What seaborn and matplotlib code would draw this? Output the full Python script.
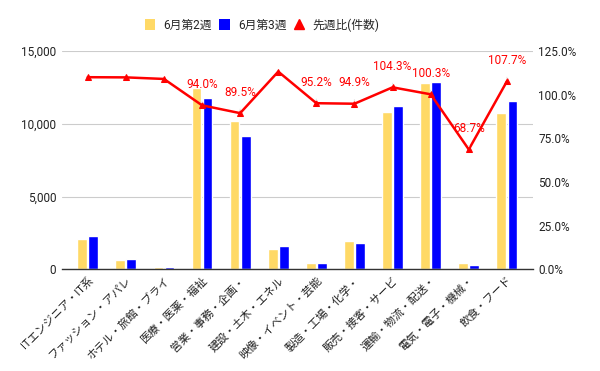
import numpy as np
import pandas as pd
import matplotlib
matplotlib.use("Agg")
import matplotlib.pyplot as plt
import seaborn as sns
from matplotlib.ticker import FuncFormatter
from matplotlib.lines import Line2D
from matplotlib.patches import Patch


# ==========================================
# DATA
# ==========================================

categories = [
    "ITエンジニア・IT系",
    "ファッション・アパレ",
    "ホテル・旅館・ブライ",
    "医療・医薬・福祉",
    "営業・事務・企画・",
    "建設・土木・エネル",
    "映像・イベント・芸能",
    "製造・工場・化学・",
    "販売・接客・サービ",
    "運輸・物流・配送・",
    "電気・電子・機械・",
    "飲食・フード",
]

week2 = [2085, 640, 165, 12500, 10200, 1400, 430, 1930, 10820, 12820, 435, 10750]
week3 = [2290, 710, 180, 11750, 9150, 1600, 410, 1830, 11230, 12860, 300, 11580]
ratio = [110.1, 110.0, 109.1, 94.0, 89.5, 113.3, 95.2, 94.9, 104.3, 100.3, 68.7, 107.7]

# labels the original chart actually shows
labeled = [3, 4, 6, 7, 8, 9, 10, 11]

series_names = ["6月第2週", "6月第3週", "先週比(件数)"]


# ==========================================
# STYLE
# ==========================================

sns.set_style("white")
plt.rcParams["font.family"] = ["Roboto", "Noto Sans CJK JP", "DejaVu Sans"]

yellow = "#FFD966"
blue = "#0000FF"
red = "#FF0000"
text_col = "#222222"

df = pd.DataFrame({
    "category": categories * 2,
    "value": week2 + week3,
    "week": [series_names[0]] * len(categories) + [series_names[1]] * len(categories),
})


# ==========================================
# PLOT
# ==========================================

fig = plt.figure(figsize=(6, 3.71), dpi=100)
ax = fig.add_axes([0.103, 0.274, 0.785, 0.588])

sns.barplot(
    data=df,
    x="category",
    y="value",
    hue="week",
    palette=[yellow, blue],
    saturation=1,
    width=0.58,
    gap=0.12,
    legend=False,
    ax=ax,
)

ax.set_xlim(-0.68, len(categories) - 0.32)
ax.set_ylim(0, 15000)
ax.set_yticks([0, 5000, 10000, 15000])
ax.yaxis.set_major_formatter(FuncFormatter(lambda v, p: f"{int(v):,}"))
ax.grid(axis="y", color="#cccccc", linewidth=0.8)
ax.set_axisbelow(True)
for s in ["top", "right", "left"]:
    ax.spines[s].set_visible(False)
ax.spines["bottom"].set_color("#333333")
ax.spines["bottom"].set_linewidth(1.0)
ax.set_xlabel("")
ax.set_ylabel("")
ax.tick_params(axis="both", length=0, labelsize=8.5, colors=text_col, pad=4)
ax.set_xticks(range(len(categories)))
ax.set_xticklabels(categories, rotation=45, ha="right", rotation_mode="anchor", fontsize=8)

# ratio line on the right axis
ax2 = ax.twinx()
x_pos = np.arange(len(categories))
sns.lineplot(
    x=x_pos,
    y=ratio,
    color=red,
    linewidth=1.8,
    marker="^",
    markersize=5,
    markeredgecolor=red,
    ax=ax2,
)
ax2.set_ylim(0, 125)
ax2.set_yticks([0, 25, 50, 75, 100, 125])
ax2.yaxis.set_major_formatter(FuncFormatter(lambda v, p: f"{v:.1f}%"))
ax2.tick_params(axis="y", length=0, labelsize=8.5, colors=text_col, pad=4)
for s in ax2.spines.values():
    s.set_visible(False)
ax2.set_xlim(ax.get_xlim())

for i in labeled:
    ax2.annotate(
        f"{ratio[i]:.1f}%",
        xy=(x_pos[i], ratio[i]),
        xytext=(0, 15),
        textcoords="offset points",
        ha="center",
        va="center",
        color=red,
        fontsize=8.5,
        arrowprops=dict(arrowstyle="-", color="#e6e6e6", linewidth=0.8, shrinkA=5, shrinkB=2),
    )

# legend at the top
handles = [
    Patch(facecolor=yellow, edgecolor="none"),
    Patch(facecolor=blue, edgecolor="none"),
    Line2D([], [], color=red, marker="^", linestyle="none", markersize=7),
]
fig.legend(
    handles,
    series_names,
    loc="center",
    bbox_to_anchor=(0.437, 0.933),
    ncol=3,
    frameon=False,
    fontsize=8.5,
    handlelength=0.9,
    handleheight=1.1,
    columnspacing=0.6,
    handletextpad=0.7,
)

plt.savefig("out.png", dpi=100)
plt.close()
